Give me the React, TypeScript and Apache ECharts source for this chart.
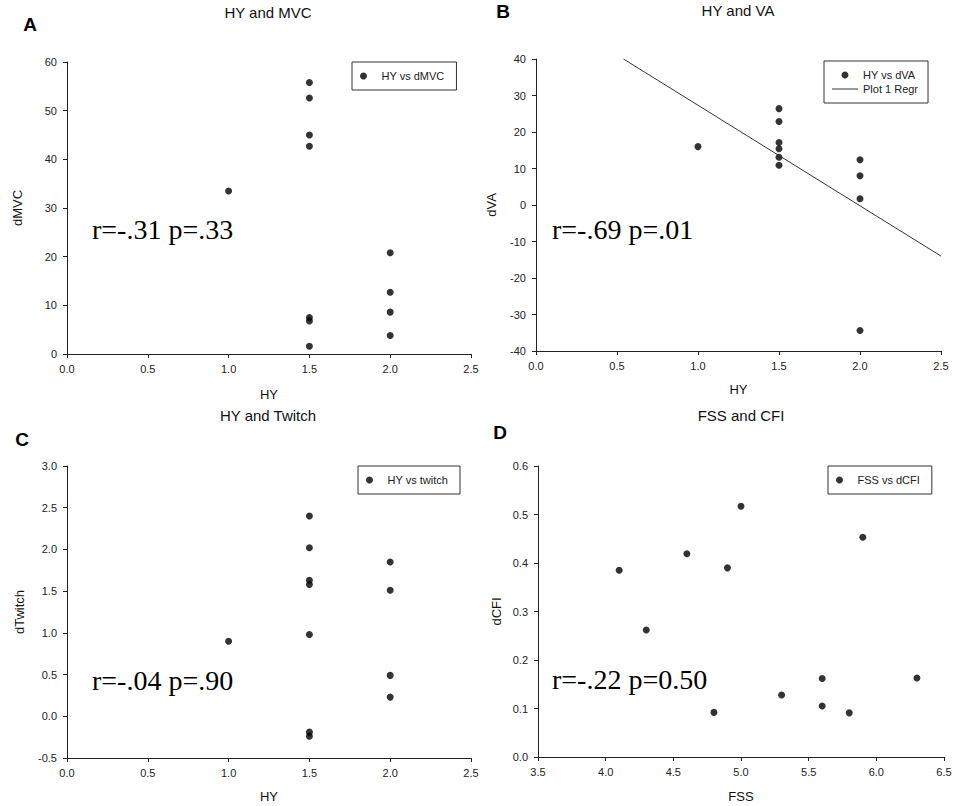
import React, { useEffect, useRef } from "react";
import * as echarts from "echarts";

// ---- Data ----
const hyA = [1.0, 1.5, 1.5, 1.5, 1.5, 1.5, 1.5, 1.5, 2.0, 2.0, 2.0, 2.0];
const dMVC = [33.5, 55.8, 52.6, 45.0, 42.7, 7.5, 6.8, 1.6, 20.8, 12.7, 8.6, 3.8];

const hyB = [1.0, 1.5, 1.5, 1.5, 1.5, 1.5, 1.5, 2.0, 2.0, 2.0, 2.0];
const dVA = [16.0, 26.4, 22.9, 17.1, 15.4, 13.1, 10.9, 12.4, 8.0, 1.7, -34.4];
const regrX = [0.54, 2.5];
const regrY = [40, -14];

const hyC = [1.0, 1.5, 1.5, 1.5, 1.5, 1.5, 1.5, 1.5, 2.0, 2.0, 2.0, 2.0];
const dTwitch = [0.9, 2.4, 2.02, 1.63, 1.58, 0.98, -0.19, -0.24, 1.85, 1.51, 0.49, 0.23];

const fss = [4.1, 4.3, 4.6, 4.8, 4.9, 5.0, 5.3, 5.6, 5.6, 5.8, 5.9, 6.3];
const dCFI = [0.385, 0.262, 0.419, 0.092, 0.39, 0.517, 0.128, 0.162, 0.105, 0.091, 0.453, 0.163];

const panelTitles = ["HY and MVC", "HY and VA", "HY and Twitch", "FSS and CFI"];
const panelLetters = ["A", "B", "C", "D"];
const xNames = ["HY", "HY", "HY", "FSS"];
const yNames = ["dMVC", "dVA", "dTwitch", "dCFI"];
const seriesNames = ["HY vs dMVC", "HY vs dVA", "HY vs twitch", "FSS vs dCFI"];
const regrName = "Plot 1 Regr";
const stats = ["r=-.31 p=.33", "r=-.69 p=.01", "r=-.04 p=.90", "r=-.22 p=0.50"];

const SANS = "'Liberation Sans', Arial, sans-serif";
const SERIF = "'Liberation Serif', 'Times New Roman', serif";
const AX = "#222";

const pairs = (xs: number[], ys: number[]) => xs.map((x, i) => [x, ys[i]]);

export default function App() {
  const ref = useRef<HTMLDivElement>(null);

  useEffect(() => {
    if (!ref.current) return;
    const chart = echarts.init(ref.current, undefined, { renderer: "svg" });

    const grids = [
      { left: 67, top: 62, width: 404, height: 292 },
      { left: 536, top: 59, width: 405, height: 292 },
      { left: 67, top: 466, width: 404, height: 292 },
      { left: 538, top: 466, width: 406, height: 291 },
    ];
    const xRanges = [
      [0, 2.5, 0.5],
      [0, 2.5, 0.5],
      [0, 2.5, 0.5],
      [3.5, 6.5, 0.5],
    ];
    const yRanges = [
      [0, 60, 10],
      [-40, 40, 10],
      [-0.5, 3.0, 0.5],
      [0, 0.6, 0.1],
    ];
    const yDecimals = [0, 0, 1, 1];
    const xNameGaps = [34, 32, 32, 33];
    const yNameGaps = [43, 38, 41, 35];

    const axisCommon = {
      axisLine: { show: true, onZero: false, lineStyle: { color: AX, width: 1 } },
      axisTick: { show: true, inside: false, length: 4, lineStyle: { color: AX } },
      splitLine: { show: false },
      nameTextStyle: { fontFamily: SANS, fontSize: 13, color: "#111" },
    };

    const xAxis = grids.map((_, i) => ({
      type: "value",
      gridIndex: i,
      min: xRanges[i][0],
      max: xRanges[i][1],
      interval: xRanges[i][2],
      name: xNames[i],
      nameLocation: "middle",
      nameGap: xNameGaps[i],
      ...axisCommon,
      axisLabel: {
        fontFamily: SANS,
        fontSize: 11,
        color: AX,
        margin: 9,
        formatter: (v: number) => v.toFixed(1),
      },
    }));

    const yAxis = grids.map((_, i) => ({
      type: "value",
      gridIndex: i,
      min: yRanges[i][0],
      max: yRanges[i][1],
      interval: yRanges[i][2],
      name: yNames[i],
      nameLocation: "middle",
      nameGap: yNameGaps[i],
      ...axisCommon,
      axisLabel: {
        fontFamily: SANS,
        fontSize: 11,
        color: AX,
        margin: 10,
        formatter: (v: number) => v.toFixed(yDecimals[i]),
      },
    }));

    const scatterData = [pairs(hyA, dMVC), pairs(hyB, dVA), pairs(hyC, dTwitch), pairs(fss, dCFI)];

    const series: any[] = scatterData.map((d, i) => ({
      type: "scatter",
      name: seriesNames[i],
      xAxisIndex: i,
      yAxisIndex: i,
      data: d,
      symbol: "circle",
      symbolSize: 7,
      itemStyle: { color: "#000" },
    }));
    series.push({
      type: "line",
      name: regrName,
      xAxisIndex: 1,
      yAxisIndex: 1,
      data: pairs(regrX, regrY),
      symbol: "none",
      showSymbol: false,
      lineStyle: { color: "#333", width: 1 },
      itemStyle: { color: "#333" },
    });

    const legendBoxes = [
      { left: 352, top: 62 },
      { left: 824, top: 61 },
      { left: 358, top: 466 },
      { left: 828, top: 466 },
    ];
    const legendCommon = {
      orient: "vertical",
      itemWidth: 26,
      itemHeight: 7,
      itemGap: 0,
      borderColor: "#333",
      borderWidth: 1,
      selectedMode: false,
      textStyle: { fontFamily: SANS, fontSize: 11, color: "#222", lineHeight: 14 },
    };
    const legend = legendBoxes.map((b, i) => ({
      ...legendCommon,
      left: b.left,
      top: b.top,
      padding: i === 1 ? [7, 10, 7, 8] : [7, 12, 7, 8],
      data:
        i === 1
          ? [
              { name: seriesNames[i], icon: "circle" },
              { name: regrName, icon: "path://M0,0L26,0L26,1L0,1Z" },
            ]
          : [{ name: seriesNames[i], icon: "circle" }],
    }));

    const titlePos = [
      [268, 12],
      [738, 10],
      [268, 415],
      [741, 415],
    ];
    const letterPos = [
      [30, 24],
      [503, 11],
      [22, 439],
      [500, 432],
    ];
    const statPos = [
      [92, 229],
      [552, 229],
      [92, 680],
      [552, 679],
    ];

    const graphic: any[] = [];
    panelTitles.forEach((t, i) => {
      graphic.push({
        type: "text",
        x: titlePos[i][0],
        y: titlePos[i][1],
        style: {
          text: t,
          fontFamily: SANS,
          fontSize: 15,
          fill: "#111",
          align: "center",
          verticalAlign: "middle",
        },
      });
      graphic.push({
        type: "text",
        x: letterPos[i][0],
        y: letterPos[i][1],
        style: {
          text: panelLetters[i],
          fontFamily: SANS,
          fontSize: 19,
          fontWeight: "bold",
          fill: "#000",
          align: "center",
          verticalAlign: "middle",
        },
      });
      graphic.push({
        type: "text",
        x: statPos[i][0],
        y: statPos[i][1],
        style: {
          text: stats[i],
          fontFamily: SERIF,
          fontSize: 28,
          fill: "#000",
          align: "left",
          verticalAlign: "middle",
        },
      });
    });

    chart.setOption({
      animation: false,
      backgroundColor: "#fff",
      grid: grids,
      xAxis,
      yAxis,
      legend,
      series,
      graphic,
    });

    return () => chart.dispose();
  }, []);

  return (
    <div
      ref={ref}
      style={{ position: "fixed", left: 0, top: 0, width: 955, height: 806, background: "#fff" }}
    />
  );
}
